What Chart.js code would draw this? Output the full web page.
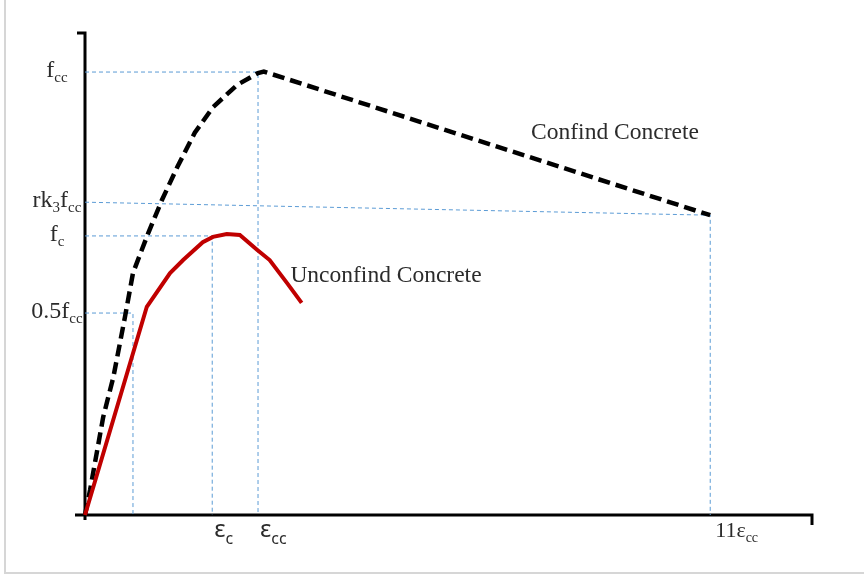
<!DOCTYPE html>
<html>
<head>
<meta charset="utf-8">
<script src="https://cdn.jsdelivr.net/npm/chart.js@4.4.1/dist/chart.umd.min.js"></script>
<style>
  html, body { margin: 0; padding: 0; background: #ffffff; }
  canvas { display: block; }
</style>
</head>
<body>
<canvas id="stressChart" width="864" height="577"></canvas>
<script>
// Curve data (strain on x, stress on y, both in relative units 0..100)
var confinedX = [0, 0.7, 2.5, 3.9, 5.5, 6.6, 8.7, 10.6, 12.7, 15.1, 17.6, 20.9, 23.8, 24.6, 86.0];
var confinedY = [0, 5.2, 20.3, 28.6, 41.1, 50.2, 58.5, 65.4, 72.2, 79.3, 84.6, 89.2, 91.7, 92.0, 62.2];

var unconfinedX = [0, 8.5, 11.7, 13.5, 16.2, 17.6, 19.5, 21.3, 23.7, 25.4, 27.8, 29.8];
var unconfinedY = [0, 43.2, 50.2, 52.9, 56.6, 57.7, 58.3, 58.1, 55.0, 52.9, 48.1, 44.0];

// Key values marked on the axes
var fcc = 91.9;
var rkLineY = [64.9, 62.2];   // rk3fcc guide line (slightly sloped in the figure)
var fc = 57.9;
var halfFcc = 41.9;
var epsHalf = 6.6;
var epsC = 17.5;
var epsCC = 23.8;
var eps11 = 86.0;

// Tick labels: [text, isSubscript] parts
var yTickValues = [fcc, rkLineY[0], fc, halfFcc];
var yTickLabels = [
    [['f', 0], ['cc', 1]],
    [['rk', 0], ['3', 1], ['f', 0], ['cc', 1]],
    [['f', 0], ['c', 1]],
    [['0.5f', 0], ['cc', 1]]
];
var xTickValues = [epsC, epsCC, eps11];
var xTickLabels = [
    [['ε', 0], ['c', 1]],
    [['ε', 0], ['cc', 1]],
    [['11ε', 0], ['cc', 1]]
];

// Curve annotations
var curveNames = ['Confind Concrete', 'Unconfind Concrete'];
var curveNameX = [72.9, 41.4];
var curveNameY = [79.3, 49.6];

function toPoints(xs, ys) {
    return xs.map(function(x, i) { return { x: x, y: ys[i] }; });
}

// blue guide lines
function guide(points) {
    return {
        data: points,
        borderColor: '#5b9bd5',
        borderWidth: 1,
        borderDash: [4, 3],
        pointRadius: 0,
        tension: 0,
        fill: false
    };
}

// draw a label made of normal + subscript parts
function drawParts(ctx, parts, x, y, align, fonts) {
    var total = 0;
    parts.forEach(function(p) {
        ctx.font = p[1] ? fonts.sub : fonts.main;
        total += ctx.measureText(p[0]).width;
    });
    var cx = x;
    if (align === 'right') cx = x - total;
    if (align === 'center') cx = x - total / 2;
    ctx.textAlign = 'left';
    ctx.textBaseline = 'alphabetic';
    parts.forEach(function(p) {
        ctx.font = p[1] ? fonts.sub : fonts.main;
        ctx.fillText(p[0], cx, y + (p[1] ? fonts.drop : 0));
        cx += ctx.measureText(p[0]).width;
    });
}

var decorations = {
    id: 'decorations',
    beforeDatasetsDraw: function(chart) {
        var ctx = chart.ctx;
        var area = chart.chartArea;
        ctx.save();
        // light frame
        ctx.strokeStyle = '#d6d6d6';
        ctx.lineWidth = 2;
        ctx.beginPath();
        ctx.moveTo(5, 0);
        ctx.lineTo(5, 573);
        ctx.lineTo(864, 573);
        ctx.stroke();
        // axes
        ctx.strokeStyle = '#000000';
        ctx.lineWidth = 3;
        ctx.lineCap = 'butt';
        ctx.beginPath();
        ctx.moveTo(area.left - 8, area.top);
        ctx.lineTo(area.left, area.top);
        ctx.lineTo(area.left, area.bottom + 5);
        ctx.moveTo(area.left - 10, area.bottom);
        ctx.lineTo(area.right, area.bottom);
        ctx.lineTo(area.right, area.bottom + 10);
        ctx.stroke();
        ctx.restore();
    },
    afterDatasetsDraw: function(chart) {
        var ctx = chart.ctx;
        var xs = chart.scales.x;
        var ys = chart.scales.y;
        ctx.save();
        ctx.fillStyle = '#2b2b2b';

        // y axis labels
        yTickValues.forEach(function(v, i) {
            var py = ys.getPixelForValue(v);
            drawParts(ctx, yTickLabels[i], 57, py + 5, 'center',
                { main: '24px "Liberation Serif"', sub: '15px "Liberation Serif"', drop: 5 });
        });

        // x axis labels
        xTickValues.forEach(function(v, i) {
            var px = xs.getPixelForValue(v);
            var fonts = i < 2
                ? { main: '24px "Noto Sans"', sub: '16px "Noto Sans"', drop: 7 }
                : { main: '22px "Liberation Serif"', sub: '14px "Liberation Serif"', drop: 5 };
            drawParts(ctx, xTickLabels[i], px + (i < 2 ? 2 : 5), ys.getPixelForValue(0) + 22, 'left', fonts);
        });

        // curve names
        ctx.font = '23.5px "Liberation Serif"';
        ctx.textAlign = 'center';
        ctx.textBaseline = 'middle';
        curveNames.forEach(function(name, i) {
            ctx.fillText(name, xs.getPixelForValue(curveNameX[i]), ys.getPixelForValue(curveNameY[i]));
        });
        ctx.restore();
    }
};

var ctx = document.getElementById('stressChart').getContext('2d');
var stressChart = new Chart(ctx, {
    type: 'line',
    data: {
        datasets: [
            {
                data: toPoints(unconfinedX, unconfinedY),
                borderColor: '#c00000',
                borderWidth: 4,
                pointRadius: 0,
                tension: 0,
                fill: false
            },
            {
                data: toPoints(confinedX, confinedY),
                borderColor: '#000000',
                borderWidth: 4.5,
                borderDash: [12, 6],
                pointRadius: 0,
                tension: 0,
                fill: false
            },
            guide([{ x: 0, y: fcc }, { x: epsCC, y: fcc }, { x: epsCC, y: 0 }]),
            guide([{ x: 0, y: rkLineY[0] }, { x: eps11, y: rkLineY[1] }, { x: eps11, y: 0 }]),
            guide([{ x: 0, y: fc }, { x: epsC, y: fc }, { x: epsC, y: 0 }]),
            guide([{ x: 0, y: halfFcc }, { x: epsHalf, y: halfFcc }, { x: epsHalf, y: 0 }])
        ]
    },
    options: {
        responsive: false,
        animation: false,
        clip: false,
        layout: { padding: { left: 85, top: 33, right: 52, bottom: 62 } },
        plugins: { legend: { display: false }, tooltip: { enabled: false } },
        scales: {
            x: { type: 'linear', min: 0, max: 100, display: false },
            y: { type: 'linear', min: 0, max: 100, display: false }
        }
    },
    plugins: [decorations]
});
</script>
</body>
</html>
